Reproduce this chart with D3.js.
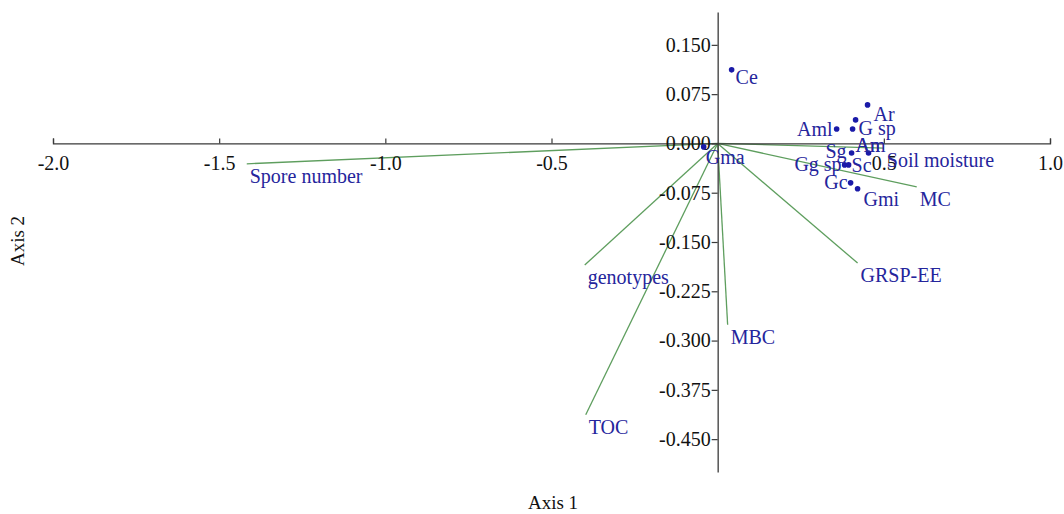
<!DOCTYPE html>
<html>
<head>
<meta charset="utf-8">
<script src="https://cdn.jsdelivr.net/npm/d3@7"></script>
<style>
  html, body { margin: 0; padding: 0; background: #fff; }
  svg { display: block; }
  svg text { font-family: "Liberation Serif", "Times New Roman", serif; }
</style>
</head>
<body>
<svg id="chart" width="1064" height="514"></svg>
<script>
// ---- Data ----
// Species scores (points)
const pointNames = ["Ce", "Ar", "Am", "G sp", "Aml", "Sg", "An", "Gg sp", "Sc", "Gc", "Gmi", "Gma"];
const pointAxis1 = [0.042, 0.451, 0.415, 0.406, 0.358, 0.403, 0.454, 0.382, 0.394, 0.400, 0.421, -0.042];
const pointAxis2 = [0.112, 0.0586, 0.0358, 0.022, 0.022, -0.0145, -0.0145, -0.0327, -0.0327, -0.060, -0.069, -0.0053];

// Environmental vectors (biplot arrows)
const vectorNames = ["Spore number", "genotypes", "TOC", "MBC", "GRSP-EE", "MC", "Soil moisture"];
const vectorAxis1 = [-1.417, -0.400, -0.397, 0.030, 0.421, 0.599, 0.500];
const vectorAxis2 = [-0.031, -0.185, -0.413, -0.276, -0.182, -0.066, -0.007];

// Axis ticks
const xTickValues = [-2.0, -1.5, -1.0, -0.5, 0.5, 1.0];
const yTickValues = [0.150, 0.075, 0.000, -0.075, -0.150, -0.225, -0.300, -0.375, -0.450];

// Label placement (style only): [dx, dy, anchor]
const pointLabelPlacement = [
  [4, 14, "start"], [6, 16, "start"], [0, 32, "start"], [6, 6, "start"],
  [-4, 7, "end"], [-5, 5, "end"], [-13, -1, "start"], [-3, 6, "end"],
  [3, 7, "start"], [-3, 6, "end"], [6, 17, "start"], [2, 17, "start"]
];
const vectorLabelPlacement = [3, 19];

// ---- Chart ----
const svg = d3.select("#chart");
const x = d3.scaleLinear().domain([-2.0, 1.0]).range([53, 1050]);
const y = d3.scaleLinear().domain([-0.5, 0.2]).range([472, 12]);

const textColor = "#25259c";
const pointColor = "#1a1aa8";
const lineColor = "#5e9e5e";
const axisColor = "#3a3a3a";
const hyphen = f => v => f(v).replace("\u2212", "-");

const vectors = vectorNames.map((n, i) => ({ name: n, x: vectorAxis1[i], y: vectorAxis2[i] }));
const points = pointNames.map((n, i) => ({ name: n, x: pointAxis1[i], y: pointAxis2[i], p: pointLabelPlacement[i] }));

// Vector lines
svg.append("g").selectAll("line").data(vectors).join("line")
  .attr("x1", x(0)).attr("y1", y(0))
  .attr("x2", d => x(d.x)).attr("y2", d => y(d.y))
  .attr("stroke", lineColor).attr("stroke-width", 1.3);

// X axis
const xAxis = svg.append("g")
  .attr("transform", `translate(0,${y(0)})`)
  .call(d3.axisBottom(x).tickValues(xTickValues).tickFormat(hyphen(d3.format(".1f")))
    .tickSize(-5).tickSizeOuter(-5).tickPadding(12));
// Y axis
const yAxis = svg.append("g")
  .attr("transform", `translate(${x(0)},0)`)
  .call(d3.axisLeft(y).tickValues(yTickValues).tickFormat(hyphen(d3.format(".3f")))
    .tickSize(6).tickSizeOuter(0).tickPadding(1));

[xAxis, yAxis].forEach(g => {
  g.attr("font-family", "Liberation Serif, serif").attr("font-size", 20);
  g.select(".domain").attr("stroke", axisColor).attr("stroke-width", 1.3);
  g.selectAll(".tick line").attr("stroke", axisColor).attr("stroke-width", 1.2);
  g.selectAll(".tick text").attr("fill", "#111");
});

// Vector labels
svg.append("g").selectAll("text").data(vectors).join("text")
  .attr("x", d => x(d.x) + vectorLabelPlacement[0])
  .attr("y", d => y(d.y) + vectorLabelPlacement[1])
  .attr("fill", textColor).style("font-size", "20px")
  .text(d => d.name);

// Points
svg.append("g").selectAll("circle").data(points).join("circle")
  .attr("cx", d => x(d.x)).attr("cy", d => y(d.y)).attr("r", 2.8)
  .attr("fill", pointColor);

// Point labels
svg.append("g").selectAll("text").data(points).join("text")
  .attr("x", d => x(d.x) + d.p[0])
  .attr("y", d => y(d.y) + d.p[1])
  .attr("text-anchor", d => d.p[2])
  .attr("fill", textColor).style("font-size", "20px")
  .text(d => d.name);

// Axis titles
svg.append("text").attr("x", 553).attr("y", 509).attr("text-anchor", "middle")
  .attr("fill", "#111").style("font-size", "19px").text("Axis 1");
svg.append("text").attr("transform", "translate(24,241) rotate(-90)").attr("text-anchor", "middle")
  .attr("fill", "#111").style("font-size", "19px").text("Axis 2");
</script>
</body>
</html>
